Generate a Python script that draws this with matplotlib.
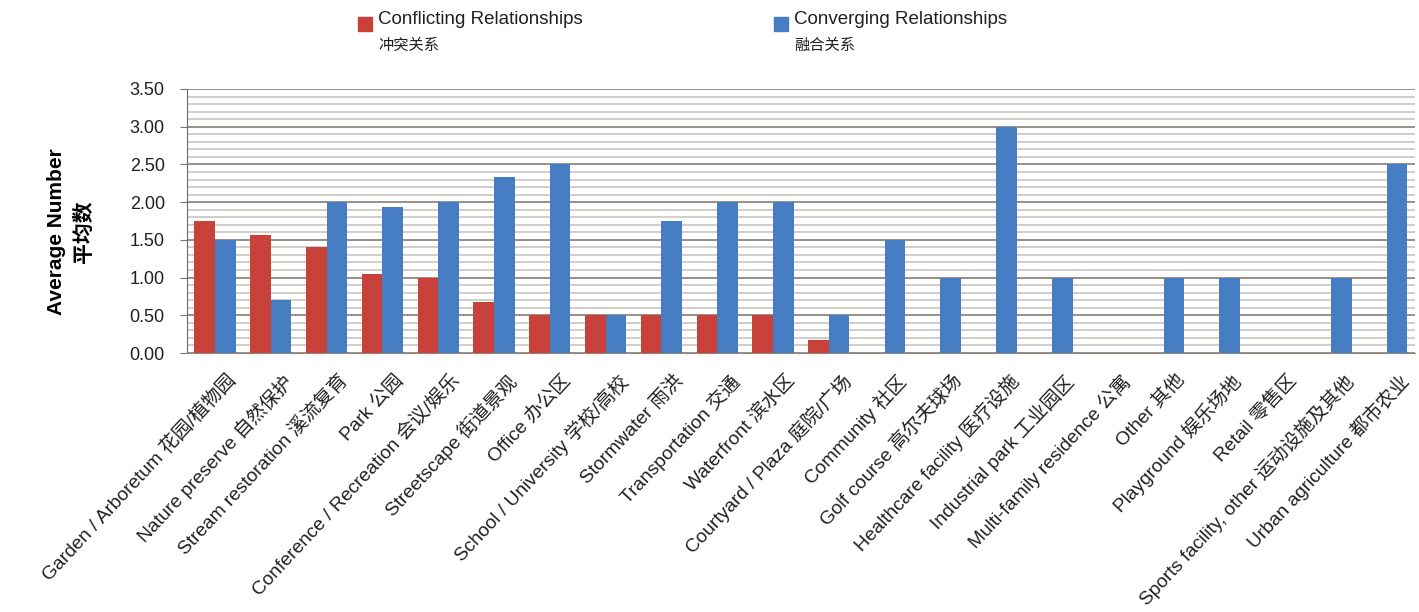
import numpy as np
import matplotlib.pyplot as plt
from matplotlib.patches import Rectangle
from matplotlib.ticker import MultipleLocator, FormatStrFormatter
from matplotlib.transforms import ScaledTranslation

categories = [
    "Garden / Arboretum 花园/植物园",
    "Nature preserve 自然保护",
    "Stream restoration 溪流复育",
    "Park 公园",
    "Conference / Recreation 会议/娱乐",
    "Streetscape 街道景观",
    "Office 办公区",
    "School / University 学校/高校",
    "Stormwater 雨洪",
    "Transportation 交通",
    "Waterfront 滨水区",
    "Courtyard / Plaza 庭院/广场",
    "Community 社区",
    "Golf course 高尔夫球场",
    "Healthcare facility 医疗设施",
    "Industrial park 工业园区",
    "Multi-family residence 公寓",
    "Other 其他",
    "Playground 娱乐场地",
    "Retail 零售区",
    "Sports facility, other 运动设施及其他",
    "Urban agriculture 都市农业",
]
conflicting = [1.75, 1.57, 1.40, 1.05, 1.00, 0.67, 0.50, 0.50, 0.50, 0.50, 0.50,
               0.17, 0, 0, 0, 0, 0, 0, 0, 0, 0, 0]
converging = [1.50, 0.70, 2.00, 1.93, 2.00, 2.33, 2.50, 0.50, 1.75, 2.00, 2.00,
              0.50, 1.50, 1.00, 3.00, 1.00, 0, 1.00, 1.00, 0, 1.00, 2.50]
series_names = [("Conflicting Relationships", "冲突关系"),
                ("Converging Relationships", "融合关系")]
series_colors = ["#C8413A", "#467DC3"]

plt.rcParams["font.family"] = ["Liberation Sans", "Noto Sans CJK SC", "DejaVu Sans"]

fig = plt.figure(figsize=(14.19, 6.12), dpi=100)
ax = fig.add_axes([0.1318, 0.4232, 0.8652, 0.4314])

x = np.arange(len(categories))
w = 0.37
ax.bar(x - w / 2, conflicting, width=w, color=series_colors[0], zorder=3)
ax.bar(x + w / 2, converging, width=w, color=series_colors[1], zorder=3)

ax.set_xlim(-0.5, len(categories) - 0.5)
ax.set_ylim(0, 3.5)
ax.yaxis.set_major_locator(MultipleLocator(0.5))
ax.yaxis.set_minor_locator(MultipleLocator(0.1))
ax.yaxis.set_major_formatter(FormatStrFormatter("%.2f"))
ax.grid(axis="y", which="minor", color="#d2cdc6", linewidth=1.4, zorder=0)
ax.grid(axis="y", which="major", color="#8e877c", linewidth=1.3, zorder=1)
ax.tick_params(axis="y", which="major", length=5, color="#777777",
               labelsize=13, pad=11, labelcolor="#231f20")
ax.tick_params(axis="y", which="minor", length=0)
ax.tick_params(axis="x", length=0, pad=4)

ax.set_xticks(x)
ax.set_xticklabels(categories, rotation=47, ha="right", rotation_mode="anchor",
                   fontsize=13.8, color="#231f20")
shift = ScaledTranslation(12 / 100, -13 / 100, fig.dpi_scale_trans)
for lbl in ax.get_xticklabels():
    lbl.set_transform(lbl.get_transform() + shift)

for side in ["top", "right"]:
    ax.spines[side].set_visible(False)
ax.spines["left"].set_color("#6e6a64")
ax.spines["bottom"].set_color("#8e877c")

# y axis title, two lines side by side
fig.text(57 / 1419, 1 - 232 / 612, "Average Number", rotation=90,
         ha="center", va="center", fontsize=15, weight="bold")
fig.text(84 / 1419, 1 - 232 / 612, "平均数", rotation=90,
         ha="center", va="center", fontsize=15, weight="bold")

# legend
legend_x = [358, 774]
for (en, zh), col, lx in zip(series_names, series_colors, legend_x):
    fig.patches.append(Rectangle((lx / 1419, 1 - 31 / 612), 14 / 1419, 14 / 612,
                                 transform=fig.transFigure, color=col))
    fig.text((lx + 20) / 1419, 1 - 19 / 612, en, ha="left", va="center",
             fontsize=13.5, color="#231f20")
    fig.text((lx + 20) / 1419, 1 - 45 / 612, zh, ha="left", va="center",
             fontsize=11, family=["Noto Sans CJK SC"], color="#231f20")

fig.savefig("out.png", dpi=100)
